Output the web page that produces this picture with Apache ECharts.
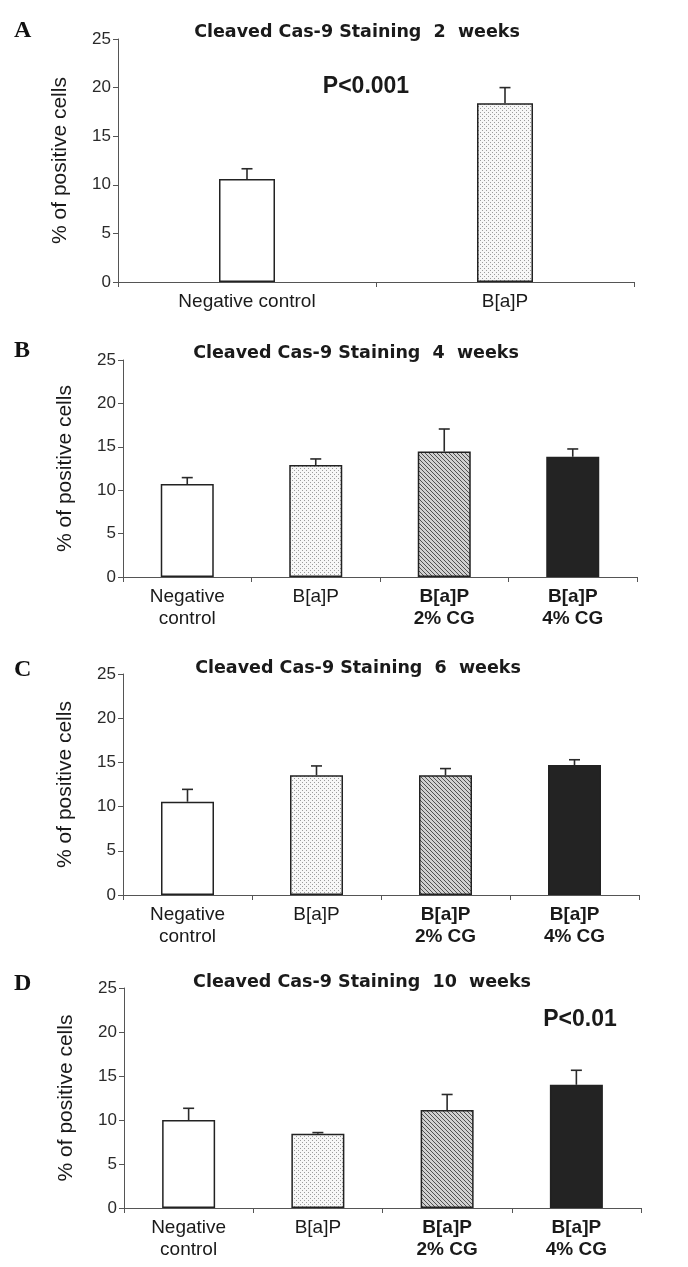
<!DOCTYPE html>
<html>
<head>
<meta charset="utf-8">
<script src="https://cdn.jsdelivr.net/npm/echarts@6/dist/echarts.min.js"></script>
<style>
html,body{margin:0;padding:0;background:#ffffff;}
#chart{width:688px;height:1267px;}
</style>
</head>
<body>
<div id="chart"></div>
<script>
// ---------------- data ----------------
const categoriesA = ['Negative control', 'B[a]P'];
const categoriesBCD = ['Negative\ncontrol', 'B[a]P', 'B[a]P\n2% CG', 'B[a]P\n4% CG'];
const panelLetters = ['A', 'B', 'C', 'D'];
const panelWeeks = ['2', '4', '6', '10'];
const titlePrefix = 'Cleaved Cas-9 Staining';
const titleSuffix = 'weeks';
const yAxisName = '% of positive cells';
const yMin = 0, yMax = 25, yInterval = 5;

const meanA = [10.6, 18.4];
const errA  = [1.05, 1.6];
const meanB = [10.7, 12.9, 14.45, 13.85];
const errB  = [0.75, 0.7, 2.6, 0.9];
const meanC = [10.55, 13.55, 13.55, 14.7];
const errC  = [1.4, 1.05, 0.75, 0.6];
const meanD = [10.0, 8.45, 11.15, 14.0];
const errD  = [1.33, 0.12, 1.75, 1.65];

const pValueA = 'P<0.001';
const pValueD = 'P<0.01';

// ---------------- styles ----------------
function patternCanvas(kind) {
  const c = document.createElement('canvas');
  c.width = 4; c.height = 4;
  const g = c.getContext('2d');
  if (kind === 'dots') {
    g.fillStyle = '#f7f7f7'; g.fillRect(0, 0, 4, 4);
    g.fillStyle = '#9c9c9c';
    g.fillRect(0, 0, 1, 1); g.fillRect(2, 2, 1, 1);
  } else {
    g.fillStyle = '#d0d0d0'; g.fillRect(0, 0, 4, 4);
    g.fillStyle = '#505050';
    for (let i = 0; i < 4; i++) g.fillRect(i, i, 1, 1);
  }
  return c;
}
const fills = [
  '#ffffff',
  { image: patternCanvas('dots'), repeat: 'repeat' },
  { image: patternCanvas('hatch'), repeat: 'repeat' },
  '#232323'
];
const sans = '"Liberation Sans", Arial, Helvetica, sans-serif';
const axisColor = '#555555';
const textColor = '#1a1a1a';

const panels = [
  { cats: categoriesA, mean: meanA, err: errA, grid: { left: 118, top: 39, width: 516, height: 243 }, barWidth: 56, letterY: 32, titleY: 32, titleX: 357 },
  { cats: categoriesBCD, mean: meanB, err: errB, grid: { left: 123, top: 360, width: 514, height: 217 }, barWidth: 53, letterY: 352, titleY: 353, titleX: 356 },
  { cats: categoriesBCD, mean: meanC, err: errC, grid: { left: 123, top: 674, width: 516, height: 221 }, barWidth: 53, letterY: 671, titleY: 668, titleX: 358 },
  { cats: categoriesBCD, mean: meanD, err: errD, grid: { left: 124, top: 988, width: 517, height: 220 }, barWidth: 53, letterY: 985, titleY: 982, titleX: 362 }
];

const grids = [], xAxes = [], yAxes = [], series = [], graphics = [];

panels.forEach((p, k) => {
  grids.push(Object.assign({ containLabel: false }, p.grid));
  xAxes.push({
    type: 'category',
    gridIndex: k,
    data: p.cats.map((c, i) => ({
      value: c,
      textStyle: { fontWeight: (p.cats.length === 4 && i >= 2) ? 'bold' : 'normal' }
    })),
    boundaryGap: true,
    axisLine: { lineStyle: { color: axisColor, width: 1 } },
    axisTick: { show: true, alignWithLabel: false, interval: 0, length: 5, lineStyle: { color: axisColor } },
    axisLabel: {
      interval: 0, margin: 9, fontFamily: sans, fontSize: 19, lineHeight: 22, color: textColor
    },
    splitLine: { show: false }
  });
  yAxes.push({
    type: 'value',
    gridIndex: k,
    min: yMin, max: yMax, interval: yInterval,
    name: yAxisName,
    nameLocation: 'middle',
    nameRotate: 90,
    nameGap: 47,
    nameTextStyle: { fontFamily: sans, fontSize: 21, color: textColor },
    axisLine: { show: true, lineStyle: { color: axisColor, width: 1 } },
    axisTick: { show: true, length: 5, lineStyle: { color: axisColor } },
    axisLabel: { fontFamily: sans, fontSize: 17, color: '#2a2a2a', margin: 7 },
    splitLine: { show: false }
  });
  series.push({
    type: 'bar',
    xAxisIndex: k, yAxisIndex: k,
    barWidth: p.barWidth,
    data: p.mean.map((v, i) => ({
      value: v,
      itemStyle: { color: fills[i], borderColor: '#222222', borderWidth: 1.5 }
    })),
    silent: true,
    animation: false
  });
  series.push({
    type: 'custom',
    xAxisIndex: k, yAxisIndex: k,
    data: p.mean.map((v, i) => [i, v, p.err[i]]),
    encode: { x: 0, y: 1 },
    z: 5,
    silent: true,
    animation: false,
    renderItem: function (params, api) {
      const i = api.value(0), v = api.value(1), e = api.value(2);
      const base = api.coord([i, v]);
      const top = api.coord([i, v + e]);
      const half = 5.5;
      const st = { stroke: '#2a2a2a', lineWidth: 1.6 };
      return {
        type: 'group',
        children: [
          { type: 'line', shape: { x1: base[0], y1: base[1], x2: top[0], y2: top[1] }, style: st },
          { type: 'line', shape: { x1: top[0] - half, y1: top[1], x2: top[0] + half, y2: top[1] }, style: st }
        ]
      };
    }
  });
  graphics.push({
    type: 'text', left: 14, top: p.letterY - 13,
    style: { text: panelLetters[k], font: 'bold 24px "Liberation Serif", "Times New Roman", serif', fill: '#111' }
  });
  graphics.push({
    type: 'text', x: p.titleX, y: p.titleY,
    style: {
      text: titlePrefix + '  ' + panelWeeks[k] + '  ' + titleSuffix,
      font: 'bold 17.5px "DejaVu Sans", Verdana, sans-serif',
      fill: '#1a1a1a', align: 'center', verticalAlign: 'middle'
    }
  });
});

graphics.push({
  type: 'text', x: 366, y: 87,
  style: { text: pValueA, font: 'bold 23px "Liberation Sans", Arial, sans-serif', fill: '#1a1a1a', align: 'center', verticalAlign: 'middle' }
});
graphics.push({
  type: 'text', x: 580, y: 1020,
  style: { text: pValueD, font: 'bold 23px "Liberation Sans", Arial, sans-serif', fill: '#1a1a1a', align: 'center', verticalAlign: 'middle' }
});

const chart = echarts.init(document.getElementById('chart'), null, { renderer: 'canvas' });
chart.setOption({
  backgroundColor: '#ffffff',
  animation: false,
  grid: grids,
  xAxis: xAxes,
  yAxis: yAxes,
  series: series,
  graphic: graphics
});
</script>
</body>
</html>
